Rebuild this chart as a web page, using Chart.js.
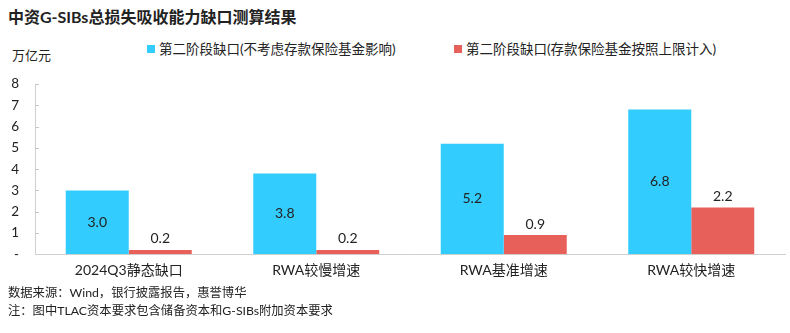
<!DOCTYPE html>
<html>
<head>
<meta charset="utf-8">
<script src="https://cdn.jsdelivr.net/npm/chart.js@4"></script>
<style>
  body { margin: 0; background: #fff; font-family: Lato, "Noto Sans CJK SC", sans-serif; color: #222; }
  #wrap { position: relative; width: 790px; height: 333px; overflow: hidden; }
  .txt { position: absolute; white-space: nowrap; }
  #title { left: 8px; top: 4px; font-size: 16px; font-weight: bold; }
  #unit { left: 12px; top: 45px; font-size: 13px; }
  .leg { position: absolute; top: 38px; font-size: 13.5px; white-space: nowrap; }
  .leg i { display: inline-block; width: 8px; height: 8px; margin-right: 4px; vertical-align: 1px; }
  #src { left: 8px; top: 283px; font-size: 12.3px; }
  #note { left: 8px; top: 301px; font-size: 12.3px; }
  #box { position: absolute; left: 0; top: 60px; width: 790px; height: 230px; }
</style>
</head>
<body>
<div id="wrap">
  <div class="txt" id="title">中资G-SIBs总损失吸收能力缺口测算结果</div>
  <div class="txt" id="unit">万亿元</div>
  <div id="legend"></div>
  <div id="box"><canvas id="c"></canvas></div>
  <div class="txt" id="src">数据来源：Wind，银行披露报告，惠誉博华</div>
  <div class="txt" id="note">注：图中TLAC资本要求包含储备资本和G-SIBs附加资本要求</div>
</div>
<script>
const categories = ['2024Q3静态缺口', 'RWA较慢增速', 'RWA基准增速', 'RWA较快增速'];
const seriesNames = ['第二阶段缺口(不考虑存款保险基金影响)', '第二阶段缺口(存款保险基金按照上限计入)'];
const gapNoFund = [3.0, 3.8, 5.2, 6.8];
const gapWithFund = [0.2, 0.2, 0.9, 2.2];
const yTicks = [0, 1, 2, 3, 4, 5, 6, 7, 8];
const colors = ['#33CCFF', '#E8605A'];

document.addEventListener('DOMContentLoaded', function() {
    const legendEl = document.getElementById('legend');
    const legendLeft = [147, 454];
    seriesNames.forEach((name, i) => {
        const item = document.createElement('div');
        item.className = 'leg';
        item.style.left = legendLeft[i] + 'px';
        const box = document.createElement('i');
        box.style.background = colors[i];
        item.appendChild(box);
        item.appendChild(document.createTextNode(name));
        legendEl.appendChild(item);
    });

    // small tick marks pointing into the plot + value labels
    const extras = {
        id: 'extras',
        afterDatasetsDraw(chart) {
            const ctx = chart.ctx;
            const y = chart.scales.y;
            const area = chart.chartArea;
            ctx.save();
            ctx.strokeStyle = '#c8c8c8';
            ctx.lineWidth = 1;
            yTicks.forEach(v => {
                if (v === 0) return;
                const py = Math.round(y.getPixelForValue(v)) + 0.5;
                ctx.beginPath();
                ctx.moveTo(area.left, py);
                ctx.lineTo(area.left + 4, py);
                ctx.stroke();
            });
            ctx.font = '14px Lato, "Noto Sans CJK SC", sans-serif';
            ctx.fillStyle = '#222';
            ctx.textAlign = 'center';
            ctx.textBaseline = 'middle';
            chart.data.datasets.forEach((ds, di) => {
                chart.getDatasetMeta(di).data.forEach((bar, i) => {
                    const label = ds.data[i].toFixed(1);
                    if (di === 0) {
                        ctx.fillText(label, bar.x, (bar.y + bar.base) / 2);
                    } else {
                        ctx.fillText(label, bar.x, bar.y - 11);
                    }
                });
            });
            ctx.restore();
        }
    };

    new Chart(document.getElementById('c'), {
        type: 'bar',
        data: {
            labels: categories,
            datasets: [
                { label: seriesNames[0], data: gapNoFund, backgroundColor: colors[0] },
                { label: seriesNames[1], data: gapWithFund, backgroundColor: colors[1] }
            ]
        },
        options: {
            responsive: true,
            maintainAspectRatio: false,
            animation: false,
            datasets: { bar: { categoryPercentage: 0.672, barPercentage: 1.0 } },
            layout: { padding: { top: 17, right: 5, bottom: 3, left: 0 } },
            plugins: { legend: { display: false }, tooltip: { enabled: false } },
            scales: {
                x: {
                    grid: { display: false, drawTicks: false },
                    border: { color: '#d0d0d0' },
                    ticks: { padding: 8, color: '#222', font: { size: 14, family: 'Lato, "Noto Sans CJK SC", sans-serif' } }
                },
                y: {
                    min: 0,
                    max: 8,
                    afterFit: function(scale) { scale.width = 35; },
                    afterBuildTicks: function(scale) { scale.ticks = yTicks.map(v => ({ value: v })); },
                    grid: { display: false, drawTicks: false },
                    border: { color: '#d0d0d0' },
                    ticks: {
                        padding: 16,
                        color: '#222',
                        font: { size: 13.5, family: 'Lato, "Noto Sans CJK SC", sans-serif' },
                        callback: v => v === 0 ? '-' : v
                    }
                }
            }
        },
        plugins: [extras]
    });
});
</script>
</body>
</html>
